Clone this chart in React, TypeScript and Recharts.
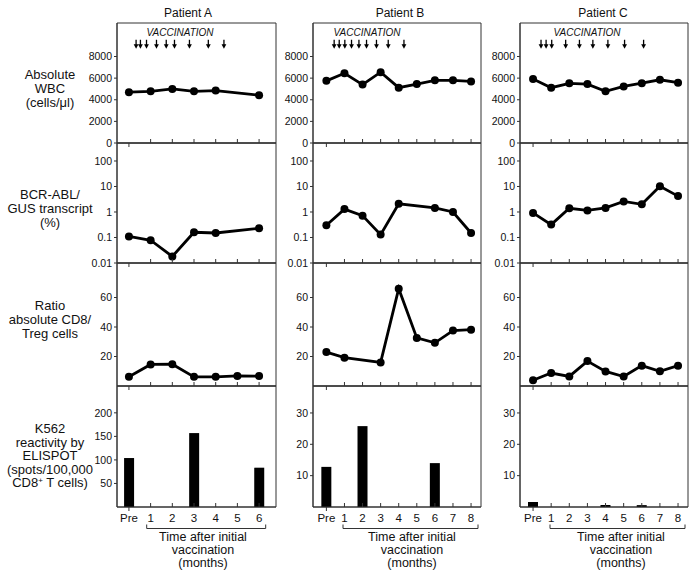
import React from "react";
import { Bar, ComposedChart, Line, ReferenceArea, Scatter, XAxis, YAxis } from "recharts";

// months after first vaccination (0 = pre)
const monthsA = [0, 1, 2, 3, 4, 5, 6];
const monthsBC = [0, 1, 2, 3, 4, 5, 6, 7, 8];

// vaccination times (months)
const vaccA = [0.33, 0.53, 0.81, 1.27, 1.72, 2.1, 2.79, 3.66, 4.38];
const vaccB = [0.43, 0.71, 1.02, 1.39, 1.8, 2.22, 2.77, 3.42, 4.29];
const vaccC = [0.44, 0.72, 1.03, 1.8, 2.56, 3.3, 4.13, 5.05, 6.1];

// absolute WBC (cells/µl)
const wbcA = [4700, 4780, 5000, 4780, 4850, null, 4420];
const wbcB = [5750, 6450, 5400, 6550, 5120, 5450, 5800, 5800, 5700];
const wbcC = [5920, 5120, 5520, 5450, 4780, 5230, 5530, 5850, 5580];

// BCR-ABL / GUS transcript (%)
const bcrA = [0.11, 0.078, 0.018, 0.16, 0.15, null, 0.23];
const bcrB = [0.3, 1.3, 0.72, 0.13, 2.1, null, 1.45, 1.0, 0.15];
const bcrC = [0.92, 0.32, 1.4, 1.15, 1.45, 2.6, 2.0, 10.2, 4.2];

// ratio absolute CD8 / Treg
const ratioA = [6.3, 14.6, 14.8, 6.2, 6.2, 6.8, 6.7];
const ratioB = [23, 19.2, null, 16, 66, 32.6, 29.3, 37.6, 38.2];
const ratioC = [3.9, 8.8, 6.5, 16.9, 9.9, 6.4, 13.8, 10, 13.8];

// K562 reactivity by ELISPOT (spots/100,000 CD8+ T cells)
const elispotA = [104, null, null, 157, null, null, 83.5];
const elispotB = [12.8, null, 25.8, null, null, null, 14, null, null];
const elispotC = [1.6, null, null, null, 0.6, null, 0.6, null, null];

const wbcTicks = [0, 2000, 4000, 6000, 8000];
const bcrTicks = [0.01, 0.1, 1, 10, 100];
const ratioTicks = [20, 40, 60];
const elispotTicksA = [50, 100, 150, 200];
const elispotTicksBC = [10, 20, 30];

const FONT = '"Liberation Sans", Arial, Helvetica, sans-serif';
const INK = "#111";
const FRAME = "#333";
const Y_AXIS_W = 40;
const PAD = 6;
const ARROW_Y = 9550;

const columns = [
  { name: "Patient A", left: 117, right: 276, xDomain: [-0.55, 6.78], months: monthsA, titleX: 188, vaccX: 180, bracket: [146.7, 265.7], captionX: 203 },
  { name: "Patient B", left: 313, right: 481, xDomain: [-0.74, 8.55], months: monthsBC, titleX: 400, vaccX: 367, bracket: [343, 478], captionX: 412 },
  { name: "Patient C", left: 520, right: 688, xDomain: [-0.72, 8.55], months: monthsBC, titleX: 603, vaccX: 587, bracket: [550, 685], captionX: 621 },
];

const rows = [
  { top: 23, bottom: 143 },
  { top: 143, bottom: 263 },
  { top: 263, bottom: 386 },
  { top: 386, bottom: 507 },
];

const rowLabels = [
  { lines: ["Absolute", "WBC", "(cells/\u03bcl)"], top: 68, lh: 14 },
  { lines: ["BCR-ABL/", "GUS transcript", "(%)"], top: 188, lh: 14 },
  { lines: ["Ratio", "absolute CD8/", "Treg cells"], top: 299, lh: 14 },
  { lines: ["K562", "reactivity by", "ELISPOT", "(spots/100,000", "CD8+ T cells)"], top: 422, lh: 13.6 },
];

function MonthTick(props: any) {
  const { x, y, payload, showLabel } = props;
  const pre = payload.value === 0;
  return (
    <g>
      <line x1={x} x2={x} y1={y} y2={pre ? y + 4 : y - 4} stroke={FRAME} strokeWidth={1} />
      {showLabel && (
        <text x={x} y={y + 15} textAnchor="middle" fontSize={11.5} fontFamily={FONT} fill={INK}>
          {pre ? "Pre" : payload.value}
        </text>
      )}
    </g>
  );
}

function Arrow(props: any) {
  const { cx, cy } = props;
  return (
    <g>
      <line x1={cx} x2={cx} y1={cy} y2={cy + 6} stroke="#000" strokeWidth={1.3} />
      <path d={`M${cx - 2.4},${cy + 4.5} L${cx + 2.4},${cy + 4.5} L${cx},${cy + 9} Z`} fill="#000" />
    </g>
  );
}

function Panel(props: any) {
  const { col, row, series, yDomain, yTicks, log, bars, arrows, labels } = props;
  const boxW = col.right - col.left;
  const boxH = row.bottom - row.top;
  const xh = labels ? 30 : 10;
  const data = col.months.map((m: number, i: number) => ({ x: m, v: series[i] }));
  const arrowData = arrows ? arrows.map((m: number) => ({ x: m, y: ARROW_Y })) : [];
  return (
    <div style={{ position: "absolute", left: col.left - Y_AXIS_W, top: row.top - PAD }}>
      <ComposedChart
        width={Y_AXIS_W + boxW + PAD}
        height={PAD + boxH + xh}
        data={data}
        margin={{ top: PAD, right: PAD, bottom: 0, left: 0 }}
      >
        <XAxis
          type="number"
          dataKey="x"
          domain={col.xDomain}
          allowDataOverflow
          ticks={col.months}
          interval={0}
          height={xh}
          tickSize={0}
          tickMargin={0}
          tickLine={false}
          axisLine={{ stroke: FRAME }}
          tick={(p: any) => <MonthTick {...p} showLabel={labels} />}
        />
        <YAxis
          type="number"
          scale={log ? "log" : "linear"}
          domain={yDomain}
          allowDataOverflow
          ticks={yTicks}
          interval={0}
          width={Y_AXIS_W}
          tickSize={3}
          tickMargin={2}
          tickLine={{ stroke: FRAME }}
          axisLine={{ stroke: FRAME }}
          tick={{ fontSize: 10.5, fill: INK, fontFamily: FONT }}
          tickFormatter={(v: number) => String(v)}
        />
        <ReferenceArea
          x1={col.xDomain[0]}
          x2={col.xDomain[1]}
          y1={yDomain[0]}
          y2={yDomain[1]}
          fill="none"
          stroke={FRAME}
          strokeWidth={1}
        />
        {bars ? (
          <Bar dataKey="v" fill="#000" barSize={10} isAnimationActive={false} />
        ) : (
          <Line
            dataKey="v"
            stroke="#000"
            strokeWidth={2.8}
            connectNulls
            dot={{ r: 4, fill: "#000", stroke: "#000", strokeWidth: 0 }}
            activeDot={false}
            isAnimationActive={false}
          />
        )}
        {arrows && (
          <Scatter data={arrowData} dataKey="y" shape={(p: any) => <Arrow {...p} />} isAnimationActive={false} />
        )}
      </ComposedChart>
    </div>
  );
}

export default function App() {
  const [A, B, C] = columns;
  const text: React.CSSProperties = { position: "absolute", fontFamily: FONT, color: INK, textAlign: "center", whiteSpace: "nowrap" };
  return (
    <div style={{ position: "absolute", left: 0, top: 0, width: 697, height: 579, background: "#fff", overflow: "hidden" }}>
      {rowLabels.map((r, i) => (
        <div key={i} style={{ ...text, left: 0, top: r.top, width: 100, fontSize: 13, lineHeight: `${r.lh}px` }}>
          {r.lines.map((l) =>
            l.startsWith("CD8+") ? (
              <div key={l}>
                CD8<sup style={{ fontSize: 8, verticalAlign: "4px", lineHeight: 0 }}>+</sup> T cells)
              </div>
            ) : (
              <div key={l}>{l}</div>
            )
          )}
        </div>
      ))}

      {columns.map((c) => (
        <React.Fragment key={c.name}>
          <div style={{ ...text, left: c.titleX - 60, top: 5, width: 120, fontSize: 12, lineHeight: "16px" }}>{c.name}</div>
          <div style={{ ...text, left: c.vaccX - 60, top: 27, width: 120, fontSize: 10, fontStyle: "italic", lineHeight: "12px" }}>VACCINATION</div>
          <div style={{ ...text, left: c.captionX - 70, top: 531, width: 140, fontSize: 12.5, lineHeight: "12.8px" }}>
            <div>Time after initial</div>
            <div>vaccination</div>
            <div>(months)</div>
          </div>
        </React.Fragment>
      ))}

      <Panel col={A} row={rows[0]} series={wbcA} yDomain={[0, 11100]} yTicks={wbcTicks} arrows={vaccA} />
      <Panel col={B} row={rows[0]} series={wbcB} yDomain={[0, 11100]} yTicks={wbcTicks} arrows={vaccB} />
      <Panel col={C} row={rows[0]} series={wbcC} yDomain={[0, 11100]} yTicks={wbcTicks} arrows={vaccC} />

      <Panel col={A} row={rows[1]} series={bcrA} yDomain={[0.01, 508]} yTicks={bcrTicks} log />
      <Panel col={B} row={rows[1]} series={bcrB} yDomain={[0.01, 508]} yTicks={bcrTicks} log />
      <Panel col={C} row={rows[1]} series={bcrC} yDomain={[0.01, 508]} yTicks={bcrTicks} log />

      <Panel col={A} row={rows[2]} series={ratioA} yDomain={[0, 83.4]} yTicks={ratioTicks} />
      <Panel col={B} row={rows[2]} series={ratioB} yDomain={[0, 83.4]} yTicks={ratioTicks} />
      <Panel col={C} row={rows[2]} series={ratioC} yDomain={[0, 83.4]} yTicks={ratioTicks} />

      <Panel col={A} row={rows[3]} series={elispotA} yDomain={[0, 257]} yTicks={elispotTicksA} bars labels />
      <Panel col={B} row={rows[3]} series={elispotB} yDomain={[0, 38.6]} yTicks={elispotTicksBC} bars labels />
      <Panel col={C} row={rows[3]} series={elispotC} yDomain={[0, 38.6]} yTicks={elispotTicksBC} bars labels />

      <svg width={697} height={579} style={{ position: "absolute", left: 0, top: 0, pointerEvents: "none" }}>
        {columns.map((c) => (
          <path
            key={c.name}
            d={`M${c.bracket[0]},524.5 L${c.bracket[0]},528.5 L${c.bracket[1]},528.5 L${c.bracket[1]},524.5`}
            fill="none"
            stroke={FRAME}
            strokeWidth={1}
          />
        ))}
      </svg>
    </div>
  );
}
